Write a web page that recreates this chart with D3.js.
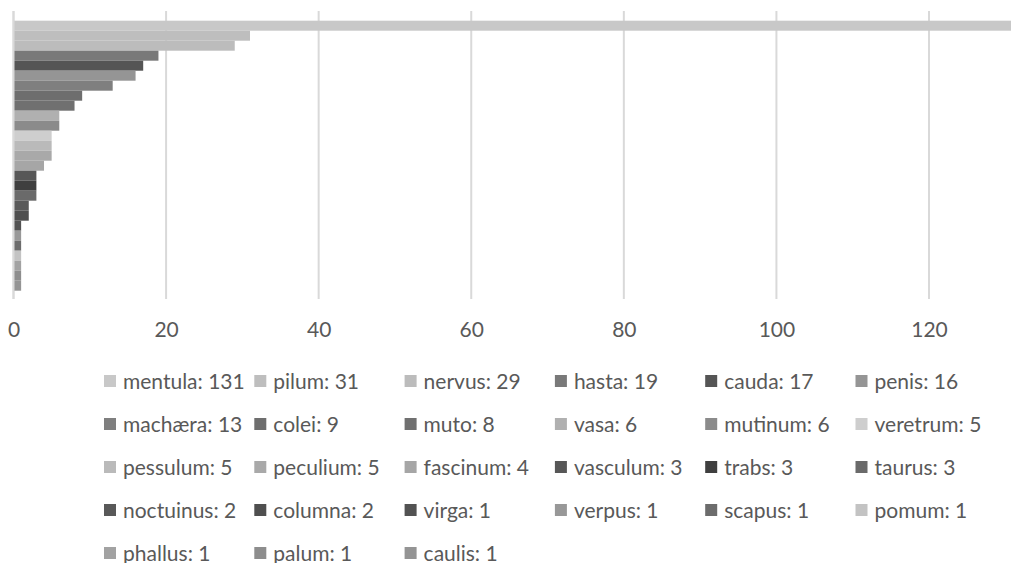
<!DOCTYPE html>
<html>
<head>
<meta charset="utf-8">
<script src="https://cdn.jsdelivr.net/npm/d3@7"></script>
<style>
  html, body { margin: 0; padding: 0; background: #fff; }
  svg { display: block; }
  text { font-family: Lato, "Open Sans", sans-serif; fill: #595959; }
</style>
</head>
<body>
<svg id="chart" width="1011" height="563"></svg>
<script>
// Words and their counts, one bar per word
const words = ["mentula", "pilum", "nervus", "hasta", "cauda", "penis",
  "machæra", "colei", "muto", "vasa", "mutinum", "veretrum",
  "pessulum", "peculium", "fascinum", "vasculum", "trabs", "taurus",
  "noctuinus", "columna", "virga", "verpus", "scapus", "pomum",
  "phallus", "palum", "caulis"];
const counts = [131, 31, 29, 19, 17, 16,
  13, 9, 8, 6, 6, 5,
  5, 5, 4, 3, 3, 3,
  2, 2, 1, 1, 1, 1,
  1, 1, 1];
const shades = ["#c8c8c8", "#bebebe", "#bcbcbc", "#797979", "#555555", "#959595",
  "#7f7f7f", "#6e6e6e", "#707070", "#b0b0b0", "#8b8b8b", "#cecece",
  "#bababa", "#a9a9a9", "#a6a6a6", "#575757", "#3f3f3f", "#6a6a6a",
  "#595959", "#4f4f4f", "#525252", "#989898", "#6c6c6c", "#c3c3c3",
  "#a2a2a2", "#8d8d8d", "#949494"];
const xTicks = [0, 20, 40, 60, 80, 100, 120];

const svg = d3.select("#chart");

const x = d3.scaleLinear().domain([0, 120]).range([13.5, 929]);
const y = d3.scaleBand().domain(words).range([20.7, 290.7]).padding(0);
const plotTop = 11, plotBottom = 299;

// vertical gridlines
svg.append("g").selectAll("line")
  .data(xTicks)
  .join("line")
  .attr("x1", d => x(d)).attr("x2", d => x(d))
  .attr("y1", plotTop).attr("y2", plotBottom)
  .attr("stroke", "#d9d9d9").attr("stroke-width", 2);

// bars
svg.append("g").selectAll("rect")
  .data(words)
  .join("rect")
  .attr("x", x(0))
  .attr("y", d => y(d))
  .attr("width", (d, i) => x(counts[i]) - x(0))
  .attr("height", y.bandwidth())
  .attr("fill", (d, i) => shades[i]);

// category axis line
svg.append("line")
  .attr("x1", x(0)).attr("x2", x(0))
  .attr("y1", plotTop).attr("y2", plotBottom)
  .attr("stroke", "#d9d9d9").attr("stroke-width", 2);

// value axis labels
const axis = d3.axisBottom(x).tickValues(xTicks).tickSize(0).tickPadding(0);
const ax = svg.append("g").attr("transform", "translate(0,322)").call(axis);
ax.select(".domain").remove();
ax.selectAll("text")
  .attr("dy", "0.71em")
  .style("font-size", "21px")
  .style("font-family", "Lato, sans-serif")
  .attr("fill", "#595959");

// legend: six columns
const colX = d3.scaleLinear().domain([0, 1]).range([104, 254.3]);
const rowY = d3.scaleLinear().domain([0, 1]).range([381, 424]);
const items = svg.append("g").selectAll("g")
  .data(words)
  .join("g")
  .attr("transform", (d, i) => `translate(${colX(i % 6)},${rowY(Math.floor(i / 6))})`);
items.append("rect")
  .attr("x", 0).attr("y", -6)
  .attr("width", 12).attr("height", 12)
  .attr("fill", (d, i) => shades[i]);
items.append("text")
  .attr("x", 19).attr("y", 0).attr("dy", "0.36em")
  .style("font-size", "21px")
  .text((d, i) => `${d}: ${counts[i]}`);
</script>
</body>
</html>
